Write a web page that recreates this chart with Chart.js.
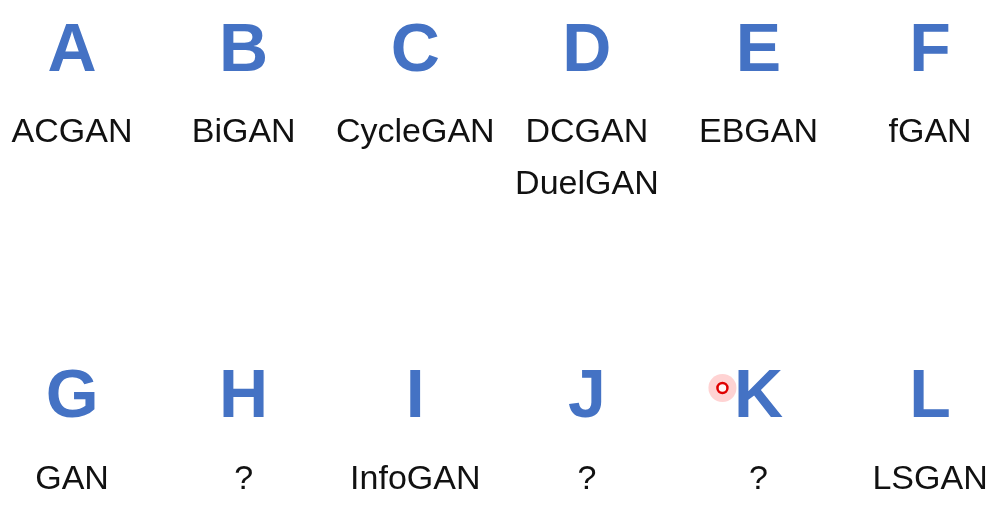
<!DOCTYPE html>
<html><head><meta charset="utf-8">
<script src="https://cdn.jsdelivr.net/npm/chart.js@4"></script>
<style>html,body{margin:0;padding:0;background:#fff}#w{width:991px;height:513px}</style>
</head><body><div id="w"><canvas id="c"></canvas></div>
<script>
const letters = ["A","B","C","D","E","F","G","H","I","J","K","L"];
const names = [["ACGAN"],["BiGAN"],["CycleGAN"],["DCGAN","DuelGAN"],["EBGAN"],["fGAN"],
               ["GAN"],["?"],["InfoGAN"],["?"],["?"],["LSGAN"]];
const columns = [0,1,2,3,4,5,0,1,2,3,4,5];
const letterRowY = [52,398];
const nameRowY = [133,480];
const lineStep = 52;
const pointer = {x:3.79, y:388};

const letterPts = letters.map((l,i)=>({x:columns[i], y:letterRowY[Math.floor(i/6)], t:l}));
const namePts = [];
names.forEach((arr,i)=>arr.forEach((n,j)=>namePts.push({x:columns[i], y:nameRowY[Math.floor(i/6)]+j*lineStep, t:n})));

const textPlugin = {
  id:'texts',
  afterDatasetsDraw(chart){
    const ctx=chart.ctx, xs=chart.scales.x, ys=chart.scales.y;
    ctx.save();
    ctx.textAlign='center'; ctx.textBaseline='middle';
    chart.data.datasets.forEach(ds=>{
      if(!ds.textFont) return;
      ctx.font=ds.textFont; ctx.fillStyle=ds.textColor;
      ds.data.forEach(p=>ctx.fillText(p.t, xs.getPixelForValue(p.x), ys.getPixelForValue(p.y)));
    });
    ctx.restore();
  }
};

new Chart(document.getElementById('c'),{
  type:'scatter',
  data:{datasets:[
    {data:[pointer], pointRadius:14, pointBackgroundColor:'rgba(255,80,80,0.25)', pointBorderWidth:0, order:2},
    {data:[pointer], pointRadius:5, pointBackgroundColor:'rgba(255,255,255,0.8)', pointBorderColor:'#e00000', pointBorderWidth:2.5, order:1},
    {data:letterPts, pointRadius:0, textFont:'bold 68px "Liberation Sans"', textColor:'#4472C4'},
    {data:namePts, pointRadius:0, textFont:'34px "Liberation Sans"', textColor:'#111'}
  ]},
  options:{
    responsive:true, maintainAspectRatio:false, animation:false,
    layout:{padding:0, autoPadding:false},
    plugins:{legend:{display:false}, tooltip:{enabled:false}},
    scales:{
      x:{type:'linear', min:-0.42, max:5.355, display:false},
      y:{type:'linear', min:0, max:513, reverse:true, display:false}
    }
  },
  plugins:[textPlugin]
});
</script></body></html>
